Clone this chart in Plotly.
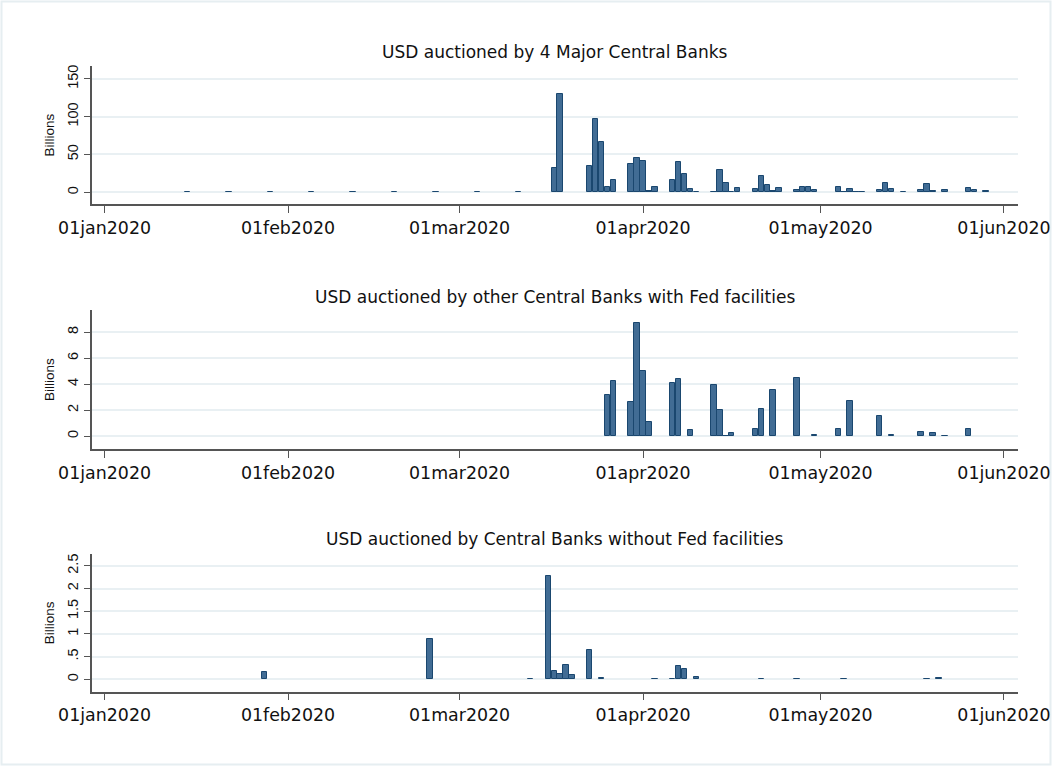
import plotly.graph_objects as go

# ---------------- data ----------------
major_dates = ["2020-01-15", "2020-01-22", "2020-01-29", "2020-02-05", "2020-02-12",
               "2020-02-19", "2020-02-26", "2020-03-04", "2020-03-11",
               "2020-03-17", "2020-03-18", "2020-03-23", "2020-03-24", "2020-03-25",
               "2020-03-26", "2020-03-27", "2020-03-30", "2020-03-31", "2020-04-01",
               "2020-04-02", "2020-04-03", "2020-04-06", "2020-04-07", "2020-04-08",
               "2020-04-09", "2020-04-10", "2020-04-13", "2020-04-14", "2020-04-15",
               "2020-04-16", "2020-04-17", "2020-04-20", "2020-04-21", "2020-04-22",
               "2020-04-23", "2020-04-24", "2020-04-27", "2020-04-28", "2020-04-29",
               "2020-04-30", "2020-05-04", "2020-05-05", "2020-05-06", "2020-05-07",
               "2020-05-08", "2020-05-11", "2020-05-12", "2020-05-13", "2020-05-15",
               "2020-05-18", "2020-05-19", "2020-05-20", "2020-05-22", "2020-05-26",
               "2020-05-27", "2020-05-29"]
major_values = [0.4, 0.4, 0.4, 0.4, 0.4, 0.4, 0.4, 0.4, 0.4,
                32, 130, 35, 96.5, 66,
                6.6, 16, 37, 45, 41,
                1.5, 6.6, 16, 40, 24,
                4, 0.5, 0.5, 29.5, 12,
                0.5, 5.7, 4.4, 21.3, 9.7,
                1.7, 5.3, 3, 6.6, 6.6,
                3, 6.6, 0.5, 4, 0.5,
                0.5, 3, 12.3, 4, 0.5,
                3, 11, 1.7, 3, 5.3,
                3, 2.2]

other_dates = ["2020-03-26", "2020-03-27", "2020-03-30", "2020-03-31", "2020-04-01",
               "2020-04-02", "2020-04-06", "2020-04-07", "2020-04-09", "2020-04-13",
               "2020-04-14", "2020-04-15", "2020-04-16", "2020-04-20", "2020-04-21",
               "2020-04-23", "2020-04-27", "2020-04-30", "2020-05-04", "2020-05-06",
               "2020-05-11", "2020-05-13", "2020-05-18", "2020-05-20", "2020-05-22",
               "2020-05-26"]
other_values = [3.13, 4.23, 2.6, 8.7, 5.0,
                1.05, 4.1, 4.38, 0.46, 3.9,
                2.0, 0.02, 0.2, 0.54, 2.08,
                3.54, 4.45, 0.05, 0.56, 2.7,
                1.53, 0.1, 0.28, 0.2, 0.03,
                0.56]

nofed_dates = ["2020-01-28", "2020-02-25", "2020-03-13", "2020-03-16", "2020-03-17",
               "2020-03-18", "2020-03-19", "2020-03-20", "2020-03-23", "2020-03-25",
               "2020-04-03", "2020-04-06", "2020-04-07", "2020-04-08", "2020-04-10",
               "2020-04-21", "2020-04-27", "2020-05-05", "2020-05-19", "2020-05-21"]
nofed_values = [0.155, 0.89, 0.01, 2.28, 0.18,
                0.12, 0.31, 0.1, 0.65, 0.03,
                0.01, 0.01, 0.29, 0.23, 0.05,
                0.01, 0.01, 0.01, 0.01, 0.03]

titles = ["USD auctioned by 4 Major Central Banks",
          "USD auctioned by other Central Banks with Fed facilities",
          "USD auctioned by Central Banks without Fed facilities"]

x_tickvals = ["2020-01-01", "2020-02-01", "2020-03-01", "2020-04-01", "2020-05-01", "2020-06-01"]
x_ticktext = ["01jan2020", "01feb2020", "01mar2020", "01apr2020", "01may2020", "01jun2020"]

y1_tickvals = [0, 50, 100, 150]
y1_ticktext = ["0", "50", "100", "150"]
y2_tickvals = [0, 2, 4, 6, 8]
y2_ticktext = ["0", "2", "4", "6", "8"]
y3_tickvals = [0, 0.5, 1, 1.5, 2, 2.5]
y3_ticktext = ["0", ".5", "1", "1.5", "2", "2.5"]

# ---------------- styling ----------------
W, H = 1052, 766
FILL = "#416c94"
EDGE = "#1a476f"
GRID = "#e9f0f3"
AXIS = "#555555"
FONT = "Liberation Sans, Arial, sans-serif"
WIDE = "DejaVu Sans, Liberation Sans, sans-serif"
DAY_MS = 86400000
x_range = ["2019-12-29 21:00", "2020-06-03 09:00"]

x_dom = [92 / W, 1018 / W]
panels = [
    dict(top=66, bottom=204, yr=[-15.5, 167], tv=y1_tickvals, tt=y1_ticktext,
         d=major_dates, v=major_values, ty=52),
    dict(top=310, bottom=449.3, yr=[-1.02, 9.7], tv=y2_tickvals, tt=y2_ticktext,
         d=other_dates, v=other_values, ty=297),
    dict(top=554, bottom=691.7, yr=[-0.273, 2.76], tv=y3_tickvals, tt=y3_ticktext,
         d=nofed_dates, v=nofed_values, ty=539),
]

fig = go.Figure()
layout = dict(
    width=W, height=H,
    margin=dict(l=0, r=0, t=0, b=0, pad=0, autoexpand=False),
    paper_bgcolor="white", plot_bgcolor="white",
    showlegend=False, bargap=0,
    font=dict(family=FONT, color="#111111"),
    annotations=[], shapes=[],
)

for i, p in enumerate(panels):
    n = "" if i == 0 else str(i + 1)
    fig.add_trace(go.Bar(
        x=p["d"], y=p["v"], width=DAY_MS * 0.92,
        marker=dict(color=FILL, line=dict(color=EDGE, width=1)),
        xaxis="x" + n, yaxis="y" + n,
    ))
    ydom = [1 - p["bottom"] / H, 1 - p["top"] / H]
    layout["xaxis" + n] = dict(
        domain=x_dom, anchor="y" + n, type="date", range=x_range, automargin=False,
        tickvals=x_tickvals, ticktext=x_ticktext, tickangle=0,
        showgrid=False, zeroline=False, showline=True, linecolor=AXIS, linewidth=1.5,
        ticks="outside", ticklen=7, tickcolor=AXIS, tickwidth=1.2,
        tickfont=dict(size=17.4, family=WIDE, color="#111111"),
    )
    layout["yaxis" + n] = dict(
        domain=ydom, anchor="x" + n, range=p["yr"], automargin=False,
        tickvals=p["tv"], ticktext=p["tt"], tickangle=-90,
        showgrid=True, gridcolor=GRID, gridwidth=1.5, zeroline=False,
        showline=True, linecolor=AXIS, linewidth=1.5,
        ticks="outside", ticklen=6, tickcolor=AXIS, tickwidth=1.2,
        tickfont=dict(size=14.5, family=FONT, color="#111111"),
        title=dict(text="Billions", font=dict(size=13.5, family=FONT, color="#111111"), standoff=8),
    )
    layout["annotations"].append(dict(
        text=titles[i], xref="paper", yref="paper",
        x=(x_dom[0] + x_dom[1]) / 2, y=1 - p["ty"] / H,
        xanchor="center", yanchor="middle", showarrow=False,
        font=dict(size=17, family=WIDE, color="#111111"),
    ))

layout["shapes"].append(dict(
    type="rect", xref="paper", yref="paper",
    x0=1.5 / W, x1=1 - 1.5 / W, y0=1.5 / H, y1=1 - 1.5 / H,
    line=dict(color="#e6eef1", width=2), fillcolor="rgba(0,0,0,0)", layer="below",
))

fig.update_layout(**layout)
fig.write_html(
    "out.html",
    config={"displayModeBar": False},
    post_script="document.body.style.margin='0';document.body.style.overflow='hidden';",
)
